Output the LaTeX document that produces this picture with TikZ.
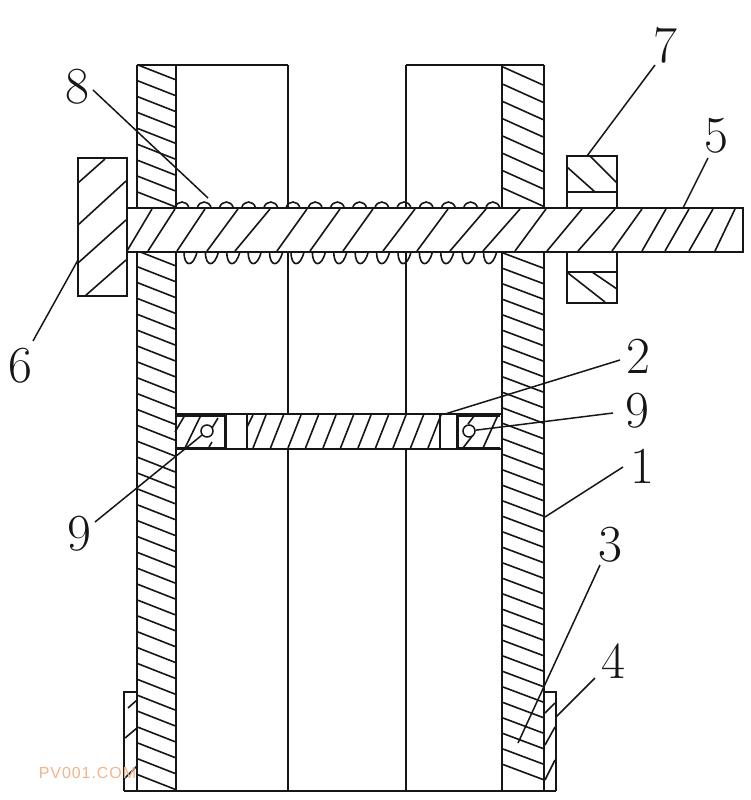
\documentclass[tikz,border=0pt]{standalone}
\usepackage{fontspec}
\newfontfamily\wmfont[LetterSpace=6]{Liberation Sans}
\definecolor{ink}{HTML}{161616}
\definecolor{wm}{HTML}{F2B48A}
\tikzset{
  part/.style={draw=ink,line width=2.4pt,line join=miter,outer sep=0pt},
  wall/.style={draw=ink,line width=2.4pt},
  hatchline/.style={draw=ink,line width=1.6pt},
  coil/.style={draw=ink,line width=1.6pt},
  leader/.style={draw=ink,line width=1.5pt},
  numlabel/.style={font=\fontsize{52}{52}\selectfont,text=ink,inner sep=0pt},
  pin/.style={circle,draw=ink,line width=1.5pt,minimum size=12pt,inner sep=0pt,fill=white}
}
\begin{document}
\begin{tikzpicture}[x=1pt,y=-1pt]
\useasboundingbox (0,0) rectangle (750,800);
\fill[white] (0,0) rectangle (750,800);
% hatching of the two walls
\foreach \k in {0,...,8}{\pgfmathsetmacro\yy{65+15.9*\k}
  \draw[hatchline] (138,\yy) -- (175,\yy+14.5);}
\foreach \k in {0,...,33}{\pgfmathsetmacro\yy{251.1+15.87*\k}
  \draw[hatchline] (138,\yy) -- (175,\yy+14.5);}
\foreach \k in {0,...,7}{\pgfmathsetmacro\yy{67+17.3*\k}
  \draw[hatchline] (503,\yy) -- (543,\yy+18);}
\foreach \k in {0,...,33}{\pgfmathsetmacro\yy{253+15.5*\k}
  \draw[hatchline] (503,\yy) -- (543,\yy+15);}
% walls and channels
\draw[wall] (137,65) -- (288,65) (406,65) -- (544,65);
\draw[wall] (137,65) -- (137,208) (176,65) -- (176,208) (288,65) -- (288,208)
  (406,65) -- (406,208) (502,65) -- (502,208) (544,65) -- (544,208);
\draw[wall] (137,252) -- (137,791) (176,252) -- (176,791) (288,252) -- (288,414) (288,449) -- (288,791)
  (406,252) -- (406,414) (406,449) -- (406,791) (502,252) -- (502,791) (544,252) -- (544,791);
\draw[wall] (124,791) -- (556,791);
% foot blocks
\draw[part] (137,692) -- (124,692) -- (124,791);
\draw[part] (544,692) -- (556,692) -- (556,791);
\draw[hatchline] (128,708) -- (137,700) (125,738) -- (137,728) (125,778) -- (137,766);
\draw[hatchline] (545,713) -- (555,703) (545,745) -- (555,727) (545,780) -- (555,760);
% spring
\foreach \k in {0,...,14}{\pgfmathsetmacro\xx{182+22.2*\k}
  \draw[coil] (\xx-7,208) .. controls (\xx-5,200) and (\xx+5,200) .. (\xx+7,208);}
\foreach \k in {0,...,14}{\pgfmathsetmacro\xx{190+21.4*\k}
  \draw[coil] (\xx-6,252) .. controls (\xx-6,267) and (\xx+3,268) .. (\xx+7,252);}
% rod
\node[part,fill=white,minimum width=616pt,minimum height=44pt,inner sep=0pt,anchor=north west] (rod) at (127,208) {};
\foreach \a/\b in {127/152,148/175,177/205,207/238,235/270,277/307,310/340,343/373,383/415,417/448,450/486,483/520,515/546,547/582,578/615,612/642,642/666,665/689,689/713,715/735}
  \draw[hatchline] (\a,251) -- (\b,209);
% head 6
\node[part,fill=white,minimum width=49pt,minimum height=138pt,inner sep=0pt,anchor=north west] (head) at (78,158) {};
\draw[hatchline] (78,183) -- (105,159) (78,225) -- (126,181) (78,263) -- (126,220) (85,296) -- (126,260);
% nut 7
\node[part,minimum width=50pt,minimum height=52pt,inner sep=0pt,anchor=north west] (nutTop) at (567,156) {};
\node[part,minimum width=50pt,minimum height=51pt,inner sep=0pt,anchor=north west] (nutBottom) at (567,252) {};
\draw[wall] (567,192) -- (617,192) (567,272) -- (617,272);
\draw[hatchline] (567,167) -- (595,192) (590,156) -- (617,183);
\draw[hatchline] (568,273) -- (605,302) (592,272) -- (617,289);
% bar 2
\draw[wall] (176,414) -- (502,414) (176,449) -- (502,449);
\draw[wall] (247,414) -- (247,449) (440,414) -- (440,449);
\draw[draw=ink,line width=3pt] (176,415) -- (225,415) -- (225,448) -- (176,448);
\draw[draw=ink,line width=3pt] (500,415) -- (457,415) -- (457,448) -- (500,448);
\foreach \k in {0,...,10}{\pgfmathsetmacro\xx{253+17.5*\k}
  \draw[hatchline] (\xx,448) -- (\xx+13,415);}
\draw[hatchline] (247,427) -- (253,415);
\draw[hatchline] (175,432) -- (185,415) (185,448) -- (201,415) (218,418) -- (212,428) (209,447) -- (212,442);
\draw[hatchline] (463,448) -- (473,435) (483,448) -- (498,415) (468,424) -- (474,416);
\node[pin] (pinL) at (207,431) {};
\node[pin] (pinR) at (469,431) {};
% labels
\node[numlabel] (n8) at (77,87) {8};
\node[numlabel] (n7) at (665,45) {7};
\node[numlabel] (n5) at (716,136) {5};
\node[numlabel] (n6) at (20,366) {6};
\node[numlabel] (n2) at (638,356) {2};
\node[numlabel] (n9r) at (637,411) {9};
\node[numlabel] (n1) at (642,466) {1};
\node[numlabel] (n3) at (610,545) {3};
\node[numlabel] (n4) at (613,661) {4};
\node[numlabel] (n9l) at (79,534) {9};
\node[font=\wmfont\fontsize{16}{16}\selectfont,text=wm,inner sep=0pt] (mark) at (87.5,773) {PV001.COM};
% leaders
\coordinate (a8) at (93,90);   \coordinate (b8) at (208,198);
\coordinate (a7) at (655,65);  \coordinate (b7) at (587,156);
\coordinate (a5) at (708,158); \coordinate (b5) at (683,208);
\coordinate (a6) at (33,341);  \coordinate (b6) at (78,260);
\coordinate (a2) at (620,360); \coordinate (b2) at (445,414);
\coordinate (a9r) at (613,413);
\coordinate (a9l) at (95,522);
\coordinate (a1) at (623,467); \coordinate (b1) at (545,517);
\coordinate (a3) at (600,565); \coordinate (b3) at (518,743);
\coordinate (a4) at (595,678); \coordinate (b4) at (556,717);
\draw[leader] (a8) -- (b8);
\draw[leader] (a7) -- (b7);
\draw[leader] (a5) -- (b5);
\draw[leader] (a6) -- (b6);
\draw[leader] (a2) -- (b2);
\draw[leader] (a9r) -- (pinR);
\draw[leader] (a9l) -- (pinL);
\draw[leader] (a1) -- (b1);
\draw[leader] (a3) -- (b3);
\draw[leader] (a4) -- (b4);
\end{tikzpicture}
\end{document}
